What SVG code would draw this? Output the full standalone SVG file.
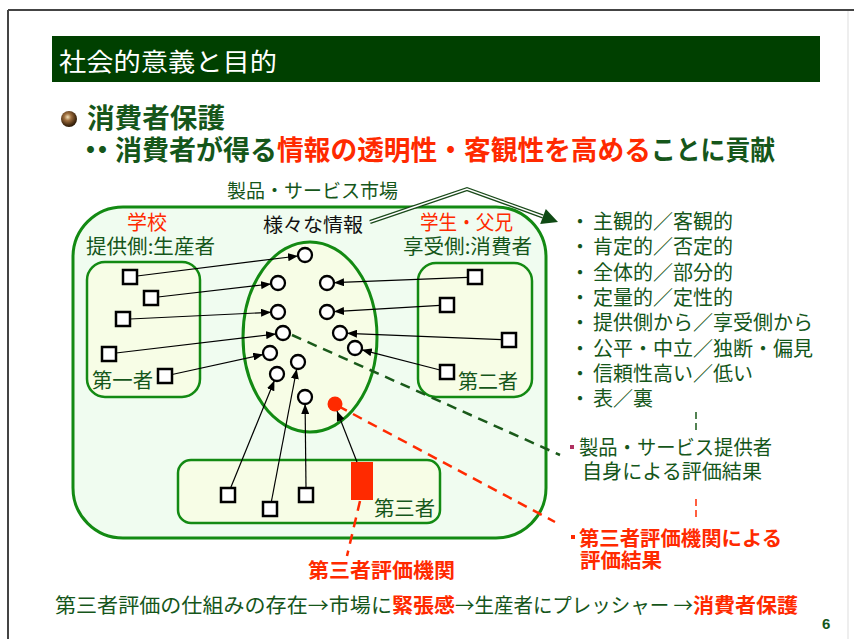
<svg xmlns="http://www.w3.org/2000/svg" width="854" height="639" viewBox="0 0 854 639">
<defs>
<style>
text{font-family:"Noto Sans CJK JP","Noto Sans",sans-serif;}
.g{fill:#15561a;}
.r{fill:#ff2a00;}
.k{fill:#111;}
.b{font-weight:bold;}
.sq{fill:#fff;stroke:#000;stroke-width:2.5;}
.ci{fill:#fff;stroke:#000;stroke-width:2.3;}
.ar{stroke:#000;stroke-width:1.2;fill:none;marker-end:url(#ah);}
.box{fill:#f7fde6;stroke:#138a13;stroke-width:2.5;}
.lst{font-size:20px;fill:#15561a;}
</style>
<marker id="ah" viewBox="0 0 10 8" refX="10" refY="4" markerWidth="10" markerHeight="8" markerUnits="userSpaceOnUse" orient="auto">
<path d="M0,0 L10,4 L0,8 z" fill="#000"/>
</marker>
<radialGradient id="ball" cx="0.42" cy="0.38" r="0.62">
<stop offset="0" stop-color="#f4e2b8"/>
<stop offset="0.35" stop-color="#a07040"/>
<stop offset="0.8" stop-color="#4a2e12"/>
<stop offset="1" stop-color="#2a1a08"/>
</radialGradient>
</defs>

<!-- slide frame -->
<g id="frame">
<rect x="0" y="0" width="854" height="639" fill="#fff"/>
<line x1="8" y1="10" x2="854" y2="10" stroke="#444" stroke-width="2"/>
<line x1="8" y1="10" x2="8" y2="639" stroke="#444" stroke-width="2"/>
<line x1="848" y1="11" x2="848" y2="639" stroke="#ddd" stroke-width="1"/>
</g>

<g id="title">
<rect x="52" y="36" width="768" height="46" fill="#004000"/>
<text x="59" y="71" font-size="25" fill="#fff" textLength="218" lengthAdjust="spacingAndGlyphs">社会的意義と目的</text>
</g>

<g id="heading">
<circle cx="69" cy="119" r="8" fill="url(#ball)"/>
<text x="87" y="128" font-size="27" class="g b" textLength="138" lengthAdjust="spacingAndGlyphs">消費者保護</text>
<text y="160" font-size="27" class="b"><tspan x="77 89" class="g">・・</tspan><tspan x="115" class="g" textLength="162" lengthAdjust="spacingAndGlyphs">消費者が得る</tspan><tspan x="277" class="r" textLength="374" lengthAdjust="spacingAndGlyphs">情報の透明性・客観性を高める</tspan><tspan x="651" class="g" textLength="124" lengthAdjust="spacingAndGlyphs">ことに貢献</tspan></text>
</g>

<g id="market-label">
<text x="227" y="198" font-size="19" class="g" textLength="171" lengthAdjust="spacingAndGlyphs">製品・サービス市場</text>
</g>

<g id="market">
<rect x="73" y="207" width="473" height="331" rx="50" ry="50" fill="#f0fcf0" stroke="#138a13" stroke-width="3"/>
</g>

<g id="school">
<text font-size="20"><tspan x="127" y="230" class="r" textLength="40" lengthAdjust="spacingAndGlyphs">学校</tspan><tspan x="86" y="254" class="g" textLength="129" lengthAdjust="spacingAndGlyphs">提供側:生産者</tspan></text>
</g>

<g id="first-party">
<rect class="box" x="87" y="262" width="113" height="135" rx="18" ry="18"/>
<text x="92" y="388" font-size="20" class="g" textLength="61" lengthAdjust="spacingAndGlyphs">第一者</text>
<rect class="sq" x="123" y="270" width="14" height="14"/>
<rect class="sq" x="144" y="291" width="14" height="14"/>
<rect class="sq" x="116" y="312" width="14" height="14"/>
<rect class="sq" x="102" y="347" width="14" height="14"/>
<rect class="sq" x="158" y="369" width="14" height="14"/>
</g>

<g id="students">
<text font-size="20"><tspan x="420" y="230" class="r" textLength="93" lengthAdjust="spacingAndGlyphs">学生・父兄</tspan><tspan x="403" y="254" class="g" textLength="129" lengthAdjust="spacingAndGlyphs">享受側:消費者</tspan></text>
</g>

<g id="second-party">
<rect class="box" x="418" y="263" width="114" height="134" rx="18" ry="18"/>
<text x="458" y="389" font-size="20" class="g" textLength="60" lengthAdjust="spacingAndGlyphs">第二者</text>
<rect class="sq" x="468" y="270" width="14" height="14"/>
<rect class="sq" x="440" y="298" width="14" height="14"/>
<rect class="sq" x="502" y="333" width="14" height="14"/>
<rect class="sq" x="440" y="365" width="14" height="14"/>
</g>

<g id="third-party">
<rect class="box" x="178" y="460" width="262" height="63" rx="13" ry="13"/>
<text x="374" y="516" font-size="20" class="g" textLength="61" lengthAdjust="spacingAndGlyphs">第三者</text>
<rect class="sq" x="221" y="488" width="14" height="14"/>
<rect class="sq" x="263" y="502" width="14" height="14"/>
<rect class="sq" x="299" y="488" width="14" height="14"/>
<rect x="351" y="462" width="22" height="38" fill="#ff2a00"/>
</g>

<g id="info">
<text x="263" y="232" font-size="19" class="k" textLength="100" lengthAdjust="spacingAndGlyphs">様々な情報</text>
<ellipse cx="310" cy="337" rx="67" ry="95" fill="#f7fde6" stroke="#138a13" stroke-width="3"/>
<circle class="ci" cx="305" cy="255" r="7"/>
<circle class="ci" cx="278" cy="283" r="7"/>
<circle class="ci" cx="327" cy="283" r="7"/>
<circle class="ci" cx="278" cy="312" r="7"/>
<circle class="ci" cx="327" cy="312" r="7"/>
<circle class="ci" cx="283" cy="333" r="7"/>
<circle class="ci" cx="340" cy="333" r="7"/>
<circle class="ci" cx="355" cy="348" r="7"/>
<circle class="ci" cx="270" cy="353" r="7"/>
<circle class="ci" cx="298" cy="362" r="7"/>
<circle class="ci" cx="277" cy="374" r="7"/>
<circle class="ci" cx="305" cy="397" r="7"/>
<circle cx="335" cy="404" r="7.5" fill="#ff2a00"/>
</g>

<g id="connectors">
<line class="ar" x1="137" y1="276" x2="298" y2="256"/>
<line class="ar" x1="158" y1="297" x2="271" y2="284"/>
<line class="ar" x1="130" y1="319" x2="271" y2="312.3"/>
<line class="ar" x1="116" y1="353" x2="276" y2="334"/>
<line class="ar" x1="172" y1="374.5" x2="263.2" y2="354.5"/>
<line class="ar" x1="468" y1="277.3" x2="334" y2="282.7"/>
<line class="ar" x1="440" y1="305.4" x2="334" y2="311.6"/>
<line class="ar" x1="502" y1="339.7" x2="347" y2="333.3"/>
<line class="ar" x1="440" y1="370" x2="361.8" y2="349.8"/>
<line class="ar" x1="230.6" y1="488" x2="274.4" y2="380.5"/>
<line class="ar" x1="271.3" y1="502" x2="296.7" y2="369"/>
<line class="ar" x1="306" y1="488" x2="305.1" y2="404"/>
<line class="ar" x1="357" y1="462" x2="337" y2="411"/>
<!-- double line to attributes list -->
<path d="M370,222 L467,189 L543,216.5" fill="none" stroke="#1a4a1a" stroke-width="4"/>
<path d="M370,222 L467,189 L543,216.5" fill="none" stroke="#fff" stroke-width="1.4"/>
<path d="M558,222 L540.2,223.9 L545.8,208.9 z" fill="#0f4a14"/>
<!-- dashed leaders -->
<line x1="292" y1="335" x2="560" y2="455" stroke="#1a5a1a" stroke-width="2.5" stroke-dasharray="10,7"/>
<line x1="338" y1="406" x2="555" y2="522" stroke="#ff2a00" stroke-width="2.5" stroke-dasharray="10,7"/>
<line x1="360" y1="501" x2="347" y2="556" stroke="#ff2a00" stroke-width="2.5" stroke-dasharray="10,7"/>
<line x1="696" y1="412" x2="696" y2="434" stroke="#1a5a1a" stroke-width="1.5" stroke-dasharray="7,4"/>
<line x1="696" y1="499" x2="696" y2="519" stroke="#ff2a00" stroke-width="1.5" stroke-dasharray="7,4"/>
</g>

<g id="attributes">
<text class="lst">
<tspan x="570" y="229">・</tspan><tspan x="593" y="229">主観的／客観的</tspan>
<tspan x="570" y="254">・</tspan><tspan x="593" y="254">肯定的／否定的</tspan>
<tspan x="570" y="280">・</tspan><tspan x="593" y="280">全体的／部分的</tspan>
<tspan x="570" y="305">・</tspan><tspan x="593" y="305">定量的／定性的</tspan>
<tspan x="570" y="330">・</tspan><tspan x="593" y="330">提供側から／享受側から</tspan>
<tspan x="570" y="356">・</tspan><tspan x="593" y="356">公平・中立／独断・偏見</tspan>
<tspan x="570" y="381">・</tspan><tspan x="593" y="381">信頼性高い／低い</tspan>
<tspan x="570" y="406">・</tspan><tspan x="593" y="406">表／裏</tspan>
</text>
</g>

<g id="self-eval">
<rect x="570" y="445" width="4" height="4" fill="#b03060"/>
<text font-size="20" class="g"><tspan x="579" y="455" textLength="193" lengthAdjust="spacingAndGlyphs">製品・サービス提供者</tspan><tspan x="582" y="479" textLength="180" lengthAdjust="spacingAndGlyphs">自身による評価結果</tspan></text>
</g>

<g id="third-eval">
<rect x="571" y="535" width="4" height="4" fill="#ff2a00"/>
<text font-size="20" class="r b"><tspan x="579" y="546" textLength="203" lengthAdjust="spacingAndGlyphs">第三者評価機関による</tspan><tspan x="580" y="568" textLength="82" lengthAdjust="spacingAndGlyphs">評価結果</tspan></text>
</g>

<g id="third-agency">
<text x="308" y="578" font-size="20" class="r b" textLength="147" lengthAdjust="spacingAndGlyphs">第三者評価機関</text>
</g>

<g id="footer">
<text y="613" font-size="20"><tspan x="55" class="g" textLength="337" lengthAdjust="spacingAndGlyphs">第三者評価の仕組みの存在→市場に</tspan><tspan x="392" class="r b" textLength="63" lengthAdjust="spacingAndGlyphs">緊張感</tspan><tspan x="455" class="g" textLength="238" lengthAdjust="spacingAndGlyphs">→生産者にプレッシャー →</tspan><tspan x="693" class="r b" textLength="105" lengthAdjust="spacingAndGlyphs">消費者保護</tspan></text>
<text x="822" y="629" font-size="15" class="g b" style="font-family:'Liberation Sans',sans-serif">6</text>
</g>
</svg>
